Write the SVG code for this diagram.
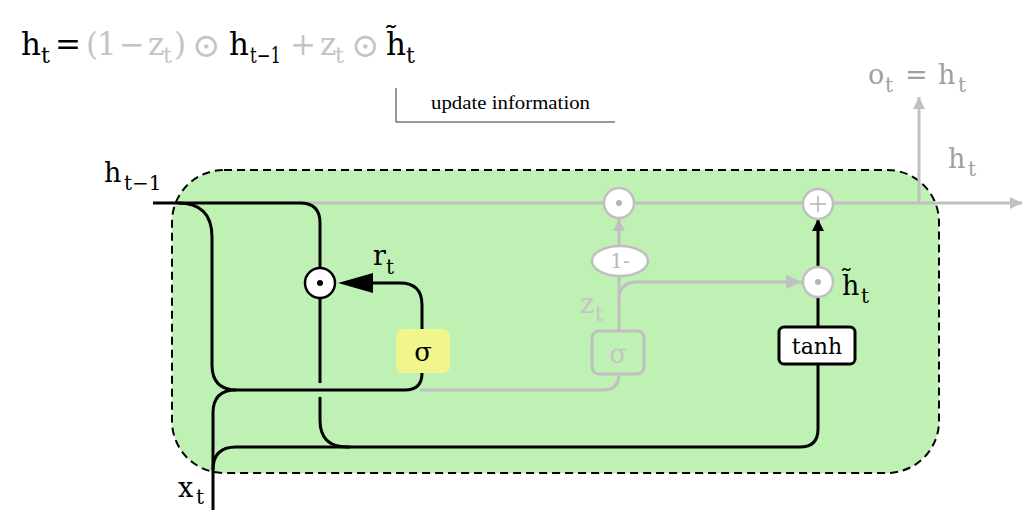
<svg xmlns="http://www.w3.org/2000/svg" width="1030" height="516" viewBox="0 0 1030 516">
<defs>
<style>
.m{font-family:"DejaVu Serif","Liberation Serif",serif;fill:#000}
.m.g{fill:#c4c4c4}
.m.g2{fill:#a0a0a0}
.m.g3{fill:#b8b8b8}
.big{font-size:31px}
.sub{font-size:22px}
.op{font-size:34px}
.lab{font-size:27px}
.ls{font-size:20px}
.bk{fill:none;stroke:#000;stroke-width:3}
.gr{fill:none;stroke:#c0c0c0;stroke-width:3}
</style>
<marker id="ag" viewBox="0 0 12 12" refX="12" refY="6" markerWidth="12" markerHeight="12" markerUnits="userSpaceOnUse" orient="auto"><path d="M0,0 L12,6 L0,12 z" fill="#c0c0c0"/></marker>
<marker id="agl" viewBox="0 0 16 14" refX="16" refY="7" markerWidth="16" markerHeight="14" markerUnits="userSpaceOnUse" orient="auto"><path d="M0,0 L16,7 L0,14 z" fill="#c0c0c0"/></marker>
<marker id="ab" viewBox="0 0 12 12" refX="12" refY="6" markerWidth="12" markerHeight="12" markerUnits="userSpaceOnUse" orient="auto"><path d="M0,0 L12,6 L0,12 z" fill="#000"/></marker>
</defs>

<g id="equation">
<text class="m big" x="21" y="55">h</text><text class="m sub" x="41" y="63">t</text>
<text class="m big" x="55" y="55">=</text>
<text class="m big g" x="86" y="55">(</text>
<text class="m big g" x="97" y="55">1</text>
<text class="m big g" x="119" y="55">−</text>
<text class="m big g" x="148" y="55">z</text><text class="m sub g" x="163" y="63">t</text>
<text class="m big g" x="174" y="55">)</text>
<text class="m op g" x="192" y="57">⊙</text>
<text class="m big" x="229" y="55">h</text><text class="m sub" x="250" y="63" textLength="31" lengthAdjust="spacingAndGlyphs">t−1</text>
<text class="m big g" x="290" y="55">+</text>
<text class="m big g" x="320" y="55">z</text><text class="m sub g" x="335" y="63">t</text>
<text class="m op g" x="351" y="57">⊙</text>
<text class="m big" x="386" y="55">h̃</text><text class="m sub" x="406" y="63">t</text>
</g>

<g id="update-note">
<path d="M396,88 V122 H615" fill="none" stroke="#333" stroke-width="1"/>
<text x="431" y="109" font-family="Liberation Serif, serif" font-size="19" textLength="159" lengthAdjust="spacingAndGlyphs" fill="#000">update information</text>
</g>

<g id="cell">
<rect x="172" y="170" width="767" height="303" rx="52" ry="52" fill="#bff0b4" stroke="#000" stroke-width="2" stroke-dasharray="8,5"/>
</g>

<g id="connectors">
<path class="gr" d="M298,203 H603 M635,203 H803 M833,203 H1022" marker-end="url(#ag)"/>
<path class="gr" d="M919,203 V97" marker-end="url(#ag)"/>
<path class="gr" d="M420,390 H603 Q619,390 619,374"/>
<path class="gr" d="M619,331 V276"/>
<path class="gr" d="M619,300 Q619,282 637,282 H802" marker-end="url(#agl)"/>
<path class="gr" d="M619,246 V219" marker-end="url(#ag)"/>

<path class="bk" d="M153,203 H300 Q320,203 320,223 V268"/>
<path class="bk" d="M178,203 Q212,203 212,237 V365 Q212,390 237,390 H405 Q422,390 422,373"/>
<path class="bk" d="M320,298 V383 M320,397 V420 Q320,447 347,447 H800 Q818,447 818,429 V364"/>
<path class="bk" d="M213,510 V470 Q213,447 236,447 H350"/>
<path class="bk" d="M213,470 V413 Q213,390 236,390"/>
<path class="bk" d="M422,330 V305 Q422,283 400,283 H370"/>
<polygon points="338,283 373,273 373,293" fill="#000"/>
<path class="bk" d="M818,327 V297"/>
<path class="bk" d="M818,267 V219" marker-end="url(#ab)"/>
</g>

<g id="reset-mult">
<circle cx="320" cy="283" r="15" fill="#fff" stroke="#000" stroke-width="2.5"/>
<circle cx="320" cy="283" r="3" fill="#000"/>
</g>

<g id="sigma-r">
<rect x="396" y="329" width="54" height="44" rx="7" fill="#f1f68c"/>
<text class="m" x="423" y="361" font-size="26" text-anchor="middle">σ</text>
</g>

<g id="sigma-z">
<rect x="592" y="331" width="52" height="43" rx="7" fill="none" stroke="#c0c0c0" stroke-width="3"/>
<text class="m g" x="618" y="363" font-size="26" text-anchor="middle">σ</text>
</g>

<g id="one-minus">
<ellipse cx="620" cy="261" rx="28" ry="15" fill="#fff" stroke="#c0c0c0" stroke-width="2.5"/>
<text class="m g3" x="620" y="268" font-size="20" text-anchor="middle">1-</text>
</g>

<g id="mult-top">
<circle cx="619" cy="203" r="15" fill="#fff" stroke="#c0c0c0" stroke-width="2.5"/>
<circle cx="619" cy="203" r="3" fill="#b4b4b4"/>
</g>

<g id="plus">
<circle cx="818" cy="204" r="15" fill="#fff" stroke="#c0c0c0" stroke-width="2.5"/>
<path d="M818,196 V212 M810,204 H826" stroke="#b4b4b4" stroke-width="1.5"/>
</g>

<g id="mult-h">
<circle cx="818" cy="282" r="15" fill="#fff" stroke="#c0c0c0" stroke-width="2.5"/>
<circle cx="818" cy="282" r="3" fill="#b4b4b4"/>
</g>

<g id="tanh">
<rect x="779" y="327" width="76" height="37" rx="5" fill="#fff" stroke="#000" stroke-width="3"/>
<text class="m" x="817" y="354" font-size="22" text-anchor="middle">tanh</text>
</g>

<g id="labels">
<text class="m lab" x="104" y="182">h</text><text class="m ls" x="124" y="190">t−1</text>
<text class="m lab" x="373" y="265">r</text><text class="m ls" x="386" y="274">t</text>
<text class="m lab g" x="580" y="313">z</text><text class="m ls g" x="595" y="321">t</text>
<text class="m lab" x="842" y="295">h̃</text><text class="m ls" x="861" y="303">t</text>
<text class="m lab g2" x="868" y="84">o</text><text class="m ls g2" x="885" y="92">t</text>
<text class="m lab g2" x="905" y="84">=</text>
<text class="m lab g2" x="938" y="84">h</text><text class="m ls g2" x="958" y="92">t</text>
<text class="m lab g2" x="948" y="168">h</text><text class="m ls g2" x="968" y="176">t</text>
<text class="m lab" x="178" y="497">x</text><text class="m ls" x="196" y="504">t</text>
</g>
</svg>
